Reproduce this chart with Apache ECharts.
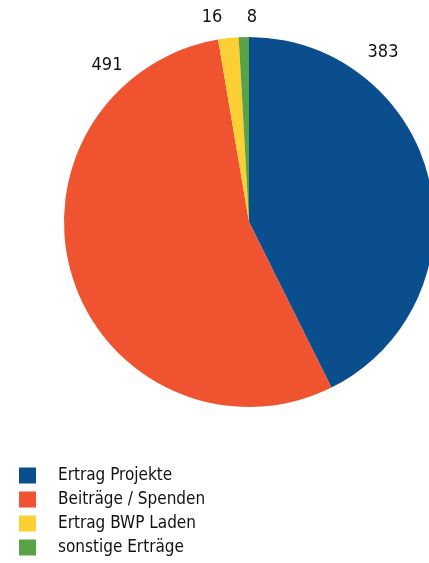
<!DOCTYPE html>
<html><head><meta charset="utf-8">
<script src="https://cdn.jsdelivr.net/npm/echarts@6/dist/echarts.min.js"></script>
<style>html,body{margin:0;padding:0;background:#fff}#c{width:429px;height:563px}</style>
</head><body><div id="c"></div>
<script>
var categories = ['Ertrag Projekte', 'Beiträge / Spenden', 'Ertrag BWP Laden', 'sonstige Erträge'];
var values = [383, 491, 16, 8];
var colors = ['#0b4e8d', '#ef5330', '#fcd034', '#58a345'];
var labelPos = [[383, 52], [107, 65], [212, 17], [252, 17]];
var FONT = '"DejaVu Sans Condensed", "DejaVu Sans", sans-serif';

var chart = echarts.init(document.getElementById('c'), null, {renderer: 'canvas'});
chart.setOption({
  backgroundColor: '#ffffff',
  animation: false,
  color: colors,
  legend: {
    orient: 'vertical', left: 19, top: 467, padding: 0, height: 96,
    itemWidth: 17, itemHeight: 16, itemGap: 7,
    icon: 'rect',
    selectedMode: false,
    textStyle: {fontFamily: FONT, fontSize: 17, color: '#111111', lineHeight: 16, padding: [0, 0, 0, 17]},
    data: categories
  },
  series: [{
    type: 'pie',
    center: [249, 222],
    radius: 185,
    startAngle: 90,
    clockwise: true,
    avoidLabelOverlap: false,
    label: {show: true, position: 'outside', formatter: '{c}', fontFamily: FONT, fontSize: 18, color: '#111111'},
    labelLine: {show: false},
    labelLayout: function (p) {
      var q = labelPos[p.dataIndex];
      return {x: q[0], y: q[1], align: 'center', verticalAlign: 'middle'};
    },
    emphasis: {disabled: true},
    data: categories.map(function (n, i) { return {name: n, value: values[i]}; })
  }]
});
</script></body></html>
